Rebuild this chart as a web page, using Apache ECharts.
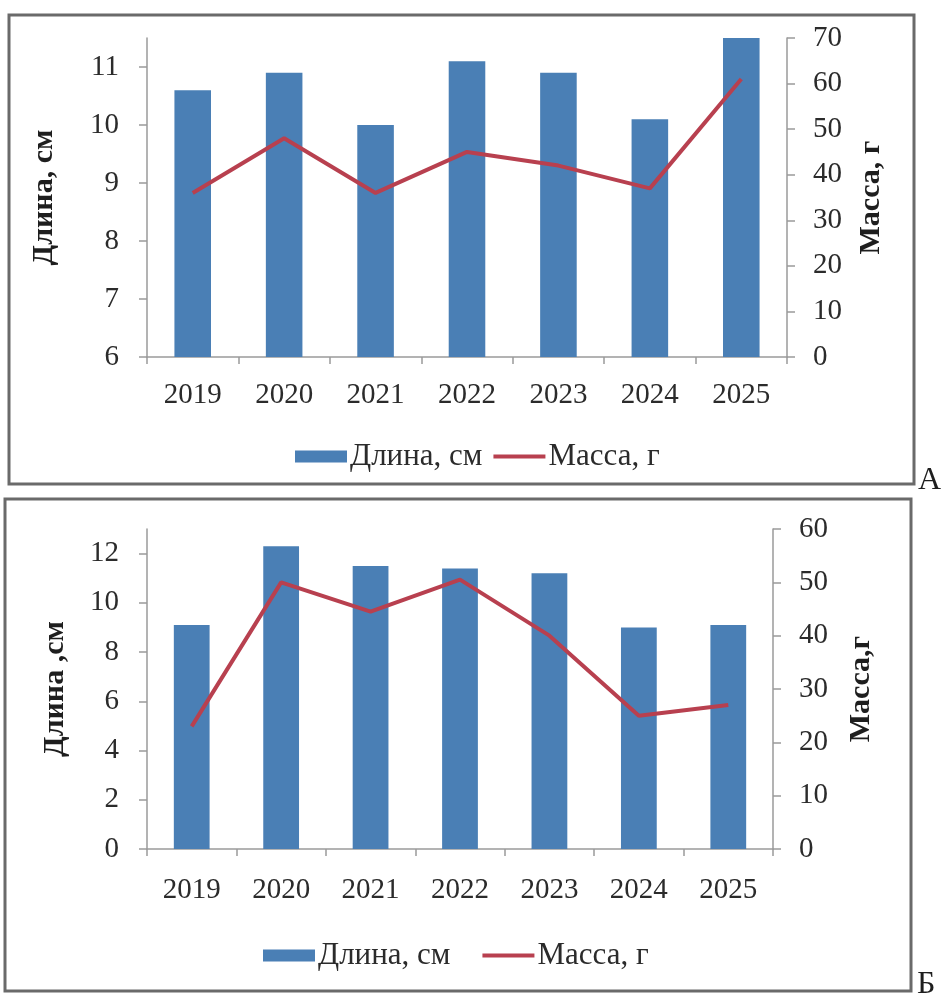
<!DOCTYPE html>
<html>
<head>
<meta charset="utf-8">
<script src="https://cdn.jsdelivr.net/npm/echarts@6/dist/echarts.min.js"></script>
<style>
  html, body { margin: 0; padding: 0; background: #ffffff; }
  #chart { width: 944px; height: 996px; }
</style>
</head>
<body>
<div id="chart"></div>
<script>
// Годы наблюдений
const years = ['2019', '2020', '2021', '2022', '2023', '2024', '2025'];

// Панель А
const lengthA = [10.6, 10.9, 10.0, 11.1, 10.9, 10.1, 11.5];   // Длина, см
const massA   = [36, 48, 36, 45, 42, 37, 61];                  // Масса, г

// Панель Б
const lengthB = [9.1, 12.3, 11.5, 11.4, 11.2, 9.0, 9.1];       // Длина, см
const massB   = [23, 50, 44.5, 50.5, 40, 25, 27];              // Масса, г

const seriesNames = ['Длина, см', 'Масса, г'];
const panelLetters = ['А', 'Б'];

const FONT = '"Liberation Serif", "Times New Roman", serif';
const TEXT = '#2b2b2b';
const AXIS = '#9a9a9a';
const BAR = '#4a7fb5';
const LINE = '#b8404f';
// тонкая горизонтальная полоса — значок линии в легенде
const LINE_ICON = 'path://M0,0H55V4H0Z';

function valueAxis(gridIndex, pos, min, max, interval, name, nameGap) {
  return {
    type: 'value',
    gridIndex: gridIndex,
    position: pos,
    min: min, max: max, interval: interval,
    name: name,
    nameLocation: 'middle',
    nameRotate: 90,
    nameGap: nameGap,
    nameTextStyle: { fontFamily: FONT, fontWeight: 'bold', fontSize: 30, color: '#1e1e1e' },
    axisLine: { show: true, lineStyle: { color: AXIS, width: 1.5 } },
    axisTick: { show: true, inside: false, length: 8, lineStyle: { color: AXIS, width: 1.5 } },
    splitLine: { show: false },
    axisLabel: {
      fontFamily: FONT, fontSize: 29, color: TEXT,
      margin: pos === 'left' ? 28 : 26,
      // верх левой оси не кратен шагу — подпись там не ставится
      showMaxLabel: pos !== 'left'
    }
  };
}

function categoryAxis(gridIndex, margin) {
  return {
    type: 'category',
    gridIndex: gridIndex,
    data: years,
    boundaryGap: true,
    axisLine: { show: true, lineStyle: { color: AXIS, width: 1.5 } },
    axisTick: { show: true, length: 7, alignWithLabel: false, lineStyle: { color: AXIS, width: 1.5 } },
    axisLabel: { fontFamily: FONT, fontSize: 29, color: TEXT, margin: margin },
    splitLine: { show: false }
  };
}

function legend(left, top, gap) {
  return {
    left: left, top: top, padding: 0, itemGap: gap,
    itemWidth: 52, itemHeight: 12,
    textStyle: { fontFamily: FONT, fontSize: 31, color: TEXT, padding: [0, 0, 0, -2] },
    data: [
      { name: seriesNames[0], icon: 'rect' },
      { name: seriesNames[1], icon: LINE_ICON, itemStyle: { color: LINE } }
    ]
  };
}

const chart = echarts.init(document.getElementById('chart'), null, { renderer: 'canvas' });

chart.setOption({
  animation: false,
  backgroundColor: '#ffffff',
  grid: [
    { left: 147, top: 38, width: 640, height: 319 },
    { left: 147, top: 529, width: 626, height: 320 }
  ],
  xAxis: [categoryAxis(0, 24), categoryAxis(1, 27)],
  yAxis: [
    valueAxis(0, 'left', 6, 11.5, 1, 'Длина, см', 88),
    valueAxis(0, 'right', 0, 70, 10, 'Масса, г', 69),
    valueAxis(1, 'left', 0, 13, 2, 'Длина ,см', 77),
    valueAxis(1, 'right', 0, 60, 10, 'Масса,г', 73)
  ],
  legend: [legend(295, 441, 11), legend(263, 940, 32)],
  series: [
    {
      name: seriesNames[0], type: 'bar', xAxisIndex: 0, yAxisIndex: 0,
      data: lengthA, barCategoryGap: '60%',
      itemStyle: { color: BAR }
    },
    {
      name: seriesNames[1], type: 'line', xAxisIndex: 0, yAxisIndex: 1,
      data: massA, symbol: 'none',
      lineStyle: { color: LINE, width: 4 }, itemStyle: { color: LINE }
    },
    {
      name: seriesNames[0], type: 'bar', xAxisIndex: 1, yAxisIndex: 2,
      data: lengthB, barCategoryGap: '60%',
      itemStyle: { color: BAR }
    },
    {
      name: seriesNames[1], type: 'line', xAxisIndex: 1, yAxisIndex: 3,
      data: massB, symbol: 'none',
      lineStyle: { color: LINE, width: 4 }, itemStyle: { color: LINE }
    }
  ],
  graphic: [
    // рамки панелей
    { type: 'rect', shape: { x: 9, y: 15, width: 905, height: 469 },
      style: { fill: 'none', stroke: '#6a6a6a', lineWidth: 3 }, z: 10 },
    { type: 'rect', shape: { x: 5, y: 499, width: 906, height: 492 },
      style: { fill: 'none', stroke: '#6a6a6a', lineWidth: 3 }, z: 10 },
    // обозначения панелей
    { type: 'text', left: 918, top: 465,
      style: { text: panelLetters[0], font: '32px ' + FONT, fill: '#1e1e1e' } },
    { type: 'text', left: 917, top: 969,
      style: { text: panelLetters[1], font: '32px ' + FONT, fill: '#1e1e1e' } }
  ]
});
</script>
</body>
</html>
